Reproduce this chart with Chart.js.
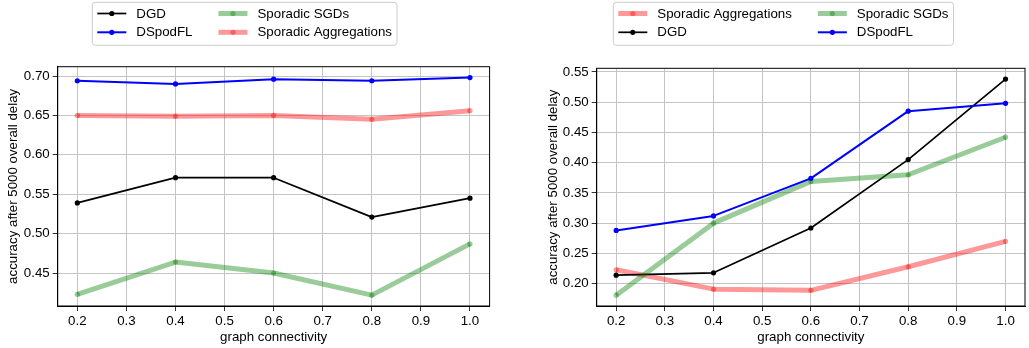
<!DOCTYPE html>
<html>
<head>
<meta charset="utf-8">
<script src="https://cdn.jsdelivr.net/npm/chart.js@4.4.1/dist/chart.umd.min.js"></script>
<style>
  body { margin: 0; background: #fff; }
  #wrap { position: relative; width: 1029px; height: 348px; overflow: hidden; }
  canvas { position: absolute; top: 0; }
</style>
</head>
<body>
<div id="wrap">
  <canvas id="leftChart" width="515" height="348" style="left:0"></canvas>
  <canvas id="rightChart" width="514" height="348" style="left:515px"></canvas>
</div>
<script>
// shared x values and ticks
const connectivity = [0.2, 0.4, 0.6, 0.8, 1.0];
const xTicks = [0.2, 0.3, 0.4, 0.5, 0.6, 0.7, 0.8, 0.9, 1.0];

// left panel
const leftDGD      = [0.539, 0.571, 0.571, 0.521, 0.545];
const leftDSpodFL  = [0.694, 0.690, 0.696, 0.694, 0.698];
const leftSGDs     = [0.423, 0.464, 0.450, 0.422, 0.487];
const leftAggr     = [0.650, 0.649, 0.650, 0.645, 0.656];
const leftYTicks   = [0.45, 0.50, 0.55, 0.60, 0.65, 0.70];
const leftLegend   = ['DGD', 'DSpodFL', 'Sporadic SGDs', 'Sporadic Aggregations'];

// right panel
const rightDGD     = [0.214, 0.218, 0.292, 0.405, 0.538];
const rightDSpodFL = [0.288, 0.312, 0.374, 0.485, 0.498];
const rightSGDs    = [0.181, 0.300, 0.369, 0.380, 0.442];
const rightAggr    = [0.223, 0.191, 0.189, 0.228, 0.270];
const rightYTicks  = [0.20, 0.25, 0.30, 0.35, 0.40, 0.45, 0.50, 0.55];
const rightLegend  = ['Sporadic Aggregations', 'DGD', 'Sporadic SGDs', 'DSpodFL'];

const FONT = '"Liberation Sans", Arial, sans-serif';
const FS = 13.3;
const GRID = '#c4c4c4';

const styles = {
  'DGD':                   { color: '#000000', width: 1.7, r: 2.6 },
  'DSpodFL':               { color: '#0000ff', width: 2,   r: 2.6 },
  'Sporadic SGDs':         { color: 'rgba(0,128,0,0.4)', width: 5, r: 2.6 },
  'Sporadic Aggregations': { color: 'rgba(255,0,0,0.4)', width: 5, r: 2.6 }
};

function series(name, ys, idx, total) {
  const s = styles[name];
  return {
    label: name,
    data: connectivity.map((x, i) => ({ x, y: ys[i] })),
    borderColor: s.color,
    backgroundColor: s.color,
    borderWidth: s.width,
    borderJoinStyle: 'round',
    pointRadius: s.r,
    pointBackgroundColor: s.color,
    pointBorderWidth: 0,
    tension: 0,
    fill: false,
    order: total - idx   // first plotted goes underneath
  };
}

function range(arrs) {
  const all = arrs.flat();
  const lo = Math.min(...all), hi = Math.max(...all);
  const m = (hi - lo) * 0.05;
  return [lo - m, hi + m];
}

// frame on all four sides + matplotlib-like legend
const framePlugin = {
  id: 'frame',
  afterDraw(chart, args, opts) {
    const c = chart.ctx;
    const a = chart.chartArea;
    c.save();
    c.strokeStyle = '#000';
    c.lineWidth = 1;
    c.strokeRect(a.left, a.top, a.right - a.left, a.bottom - a.top);

    // legend
    c.font = `${FS}px ${FONT}`;
    c.textBaseline = 'middle';
    const entries = opts.order.map(n => chart.data.datasets.find(d => d.label === n));
    const cols = [entries.slice(0, 2), entries.slice(2)];
    const L = opts.left, T = opts.top;
    const hLen = 29, pad = 5, tPad = 10, colGap = 26;
    const rowY = [T + 11.2, T + 30];
    let x = L + pad;
    const colX = [];
    cols.forEach(col => {
      colX.push(x);
      const w = Math.max(...col.map(d => c.measureText(d.label).width));
      x += hLen + tPad + w + colGap;
    });
    const right = x - colGap + pad;
    c.beginPath();
    c.roundRect(L, T, right - L, 43, 3);
    c.fillStyle = 'rgba(255,255,255,0.8)';
    c.fill();
    c.strokeStyle = '#cccccc';
    c.lineWidth = 1;
    c.stroke();
    cols.forEach((col, ci) => {
      col.forEach((d, ri) => {
        const hx = colX[ci], y = rowY[ri];
        c.beginPath();
        c.moveTo(hx, y);
        c.lineTo(hx + hLen, y);
        c.strokeStyle = d.borderColor;
        c.lineWidth = d.borderWidth;
        c.lineCap = 'butt';
        c.stroke();
        c.beginPath();
        c.arc(hx + hLen / 2, y, d.pointRadius, 0, Math.PI * 2);
        c.fillStyle = d.pointBackgroundColor;
        c.fill();
        c.fillStyle = '#000';
        c.fillText(d.label, hx + hLen + tPad, y + 0.5);
      });
    });
    c.restore();
  }
};

function makeChart(id, names, arrays, yTicks, box) {
  const [ymin, ymax] = range(arrays);
  const font = { family: FONT, size: FS };
  return new Chart(document.getElementById(id), {
    type: 'line',
    data: { datasets: names.map((n, i) => series(n, arrays[i], i, names.length)) },
    options: {
      responsive: false,
      animation: false,
      events: [],
      layout: { padding: { left: 0, right: box.padRight, top: box.top, bottom: 0 } },
      plugins: {
        legend: { display: false },
        tooltip: { enabled: false },
        frame: { order: names, left: box.legendLeft, top: 2.3 }
      },
      scales: {
        x: {
          type: 'linear', min: 0.16, max: 1.04,
          afterBuildTicks: s => { s.ticks = xTicks.map(v => ({ value: v })); },
          afterFit: s => { s.height = 348 - 306; },
          ticks: { callback: v => v.toFixed(1), color: '#000', font, padding: 2, autoSkip: false, maxRotation: 0 },
          grid: { color: GRID, lineWidth: 1, tickLength: 5, tickColor: '#333' },
          border: { display: true, color: '#000', width: 1 },
          title: { display: true, text: 'graph connectivity', color: '#000', font, padding: { top: 0, bottom: 3 } }
        },
        y: {
          type: 'linear', min: ymin, max: ymax,
          afterBuildTicks: s => { s.ticks = yTicks.map(v => ({ value: v })); },
          afterFit: s => { s.width = box.axisW; },
          ticks: { callback: v => v.toFixed(2), color: '#000', font, padding: 3, autoSkip: false },
          grid: { color: GRID, lineWidth: 1, tickLength: 5, tickColor: '#333' },
          border: { display: true, color: '#000', width: 1 },
          title: { display: true, text: 'accuracy after 5000 overall delay', color: '#000', font, padding: { top: box.titlePad, bottom: 0 } }
        }
      }
    },
    plugins: [framePlugin]
  });
}

makeChart('leftChart', leftLegend,
  [leftDGD, leftDSpodFL, leftSGDs, leftAggr], leftYTicks,
  { axisW: 57.7, padRight: 515 - 489.6, top: 66.7, titlePad: 5, legendLeft: 92.3 });

makeChart('rightChart', rightLegend,
  [rightAggr, rightDGD, rightSGDs, rightDSpodFL], rightYTicks,
  { axisW: 81.7, padRight: 514 - 513, top: 68.3, titlePad: 30, legendLeft: 98.3 });
</script>
</body>
</html>
